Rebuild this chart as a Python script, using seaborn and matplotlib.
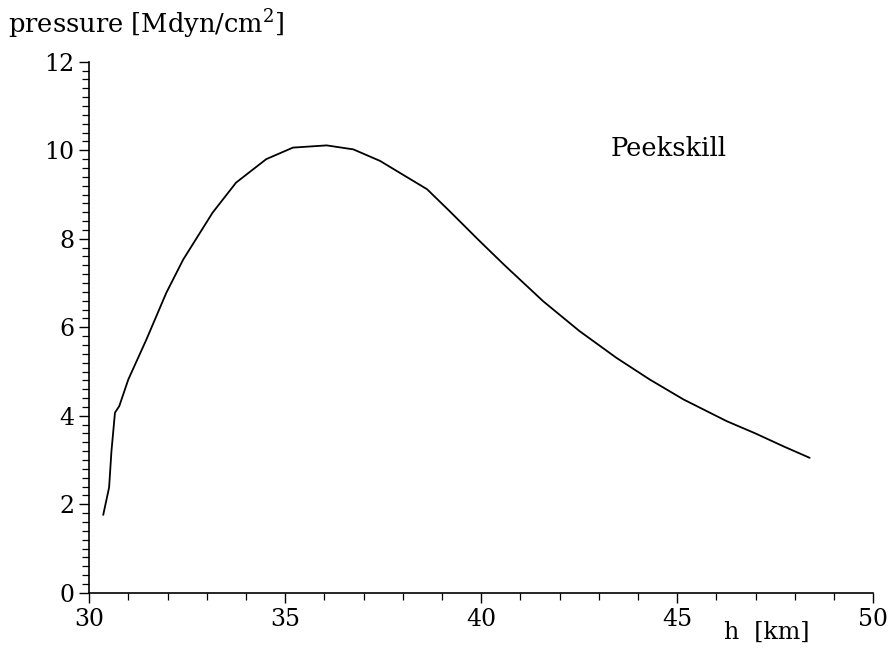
import numpy as np
import pandas as pd
import matplotlib
matplotlib.use("Agg")
import matplotlib.pyplot as plt
from matplotlib.ticker import MultipleLocator
import seaborn as sns

# curve
height_km = [30.36, 30.51, 30.57, 30.66, 30.77, 31.0, 31.46, 31.97, 32.4, 33.15,
             33.75, 34.52, 35.2, 36.06, 36.74, 37.42, 38.0, 38.62, 39.2, 39.96,
             40.6, 41.58, 42.5, 43.45, 44.3, 45.16, 46.26, 47.0, 47.71, 48.38]
pressure = [1.76, 2.38, 3.2, 4.07, 4.22, 4.82, 5.72, 6.78, 7.53, 8.59,
            9.27, 9.8, 10.06, 10.11, 10.02, 9.76, 9.45, 9.12, 8.62, 7.95,
            7.4, 6.59, 5.92, 5.31, 4.82, 4.37, 3.88, 3.6, 3.31, 3.05]

df = pd.DataFrame({"h": height_km, "p": pressure})

sns.set_style("ticks")
plt.rcParams['font.family'] = ['DejaVu Serif']
plt.rcParams['text.color'] = 'black'
plt.rcParams['mathtext.fontset'] = 'dejavuserif'

fig = plt.figure(figsize=(8.91, 6.5), dpi=100)
ax = fig.add_axes([0.1, 0.088, 0.88, 0.817])

sns.lineplot(data=df, x="h", y="p", color="black", linewidth=1.3, ax=ax, sort=False)

ax.set_xlim(30, 50)
ax.set_ylim(0, 12)
ax.xaxis.set_major_locator(MultipleLocator(5))
ax.xaxis.set_minor_locator(MultipleLocator(1))
ax.yaxis.set_major_locator(MultipleLocator(2))
ax.yaxis.set_minor_locator(MultipleLocator(0.2))
ax.tick_params(which="major", length=7, width=1, labelsize=17, color="black", labelcolor="black")
ax.tick_params(which="minor", length=5, width=0.9, color="black")
ax.tick_params(axis="x", pad=4)

sns.despine(ax=ax)
for s in ["left", "bottom"]:
    ax.spines[s].set_color("black")
    ax.spines[s].set_linewidth(1.2)

ax.set_xlabel("")
ax.set_ylabel("")
fig.text(0.009, 0.962, r"pressure [Mdyn/cm$^\mathregular{2}$]", fontsize=18.5, va="center", ha="left")
fig.text(0.813, 0.027, "h  [km]", fontsize=17, va="center", ha="left")
ax.text(43.3, 10.05, "Peekskill", fontsize=18.5, va="center", ha="left")

fig.savefig("out.png", dpi=100, facecolor="white")
